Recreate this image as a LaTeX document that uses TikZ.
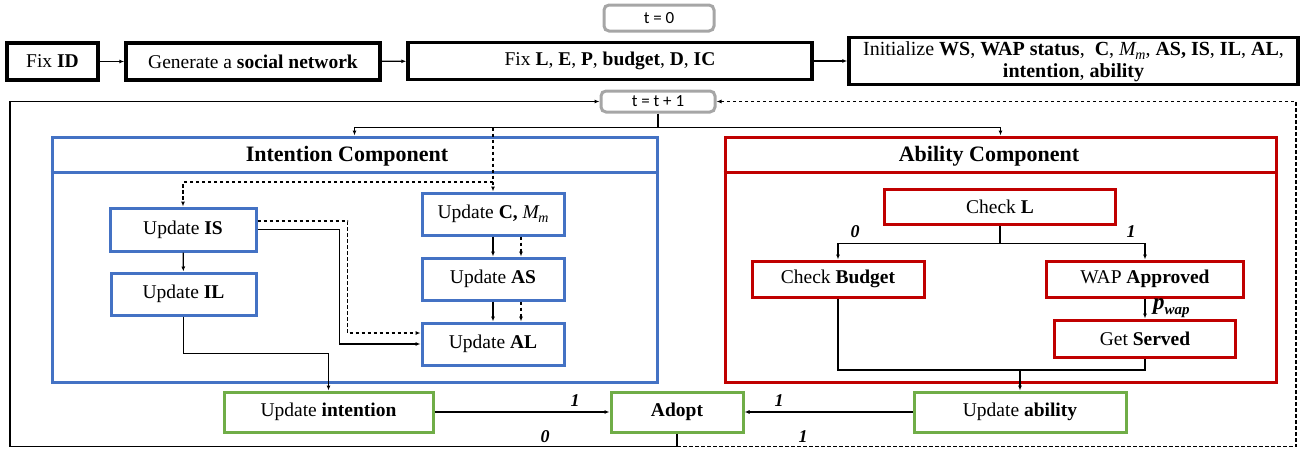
\documentclass[tikz,border=0pt]{standalone}
\usepackage{fontspec}
\setmainfont{Liberation Serif}
\newfontfamily\calibfont{Carlito}
\usetikzlibrary{arrows.meta,calc}

\definecolor{iblue}{HTML}{4472C4}
\definecolor{ared}{HTML}{C00000}
\definecolor{ogreen}{HTML}{70AD47}
\definecolor{tgray}{HTML}{A6A6A6}

% italic M with subscript m, set in the text font
\newcommand{\Mm}{\textit{M\kern-0.5pt}\raisebox{-3.5pt}{\fontsize{14}{14}\selectfont\textit{m}}}

\tikzset{
  base/.style={inner sep=0pt, align=center, font=\fontsize{19.5}{22}\selectfont},
  initbox/.style={base, draw=black, line width=3.5pt},
  intbox/.style={base, draw=iblue, line width=3pt},
  ablbox/.style={base, draw=ared, line width=3pt},
  outbox/.style={base, draw=ogreen, line width=3pt},
  timebox/.style={base, draw=tgray, line width=3pt, rounded corners=5pt, font=\calibfont\fontsize{17}{19}\selectfont},
  comp/.style={inner sep=0pt, line width=3pt},
  ttl/.style={inner sep=0pt, font=\bfseries\fontsize{22}{24}\selectfont},
  lbl/.style={inner sep=0pt, font=\bfseries\itshape\fontsize{18}{20}\selectfont},
  conn/.style={line width=1.3pt, -{Latex[length=5pt,width=4pt]}},
  link/.style={line width=1.3pt},
  dconn/.style={conn, dash pattern=on 3.5pt off 2.5pt},
  dlink/.style={link, dash pattern=on 3.5pt off 2.5pt},
}

\begin{document}
\begin{tikzpicture}[x=1pt,y=-1pt]
\useasboundingbox (0,0) rectangle (1301,448);

% ---- initialisation row ----
\node[timebox, minimum width=110, minimum height=26] (t0) at (659,18) {t = 0};
\node[initbox, minimum width=91, minimum height=37] (fixid) at (52.5,61.5) {Fix \textbf{ID}};
\node[initbox, minimum width=254, minimum height=37] (gen) at (253,61.5) {Generate a \textbf{social network}};
\node[initbox, minimum width=404, minimum height=37] (fixl) at (610,61) {Fix \textbf{L}, \textbf{E}, \textbf{P}, \textbf{budget}, \textbf{D}, \textbf{IC}};
\node[initbox, minimum width=449, minimum height=47, font=\fontsize{20}{22}\selectfont] (init) at (1073.5,61)
  {\strut Initialize \textbf{WS}, \textbf{WAP status},\ \ \textbf{C}, \Mm, \textbf{AS, IS}, \textbf{IL}, \textbf{AL},\\ \textbf{intention}, \textbf{ability}};
\draw[conn] (fixid) -- (gen);
\draw[conn] (gen) -- (fixl);
\draw[conn] (fixl) -- (init);

% ---- time step ----
\node[timebox, minimum width=114, minimum height=21] (t1) at (658,101.5) {t = t + 1};

% ---- intention component ----
\node[comp, draw=iblue, minimum width=605, minimum height=245] (intc) at (354.5,259.5) {};
\draw[iblue, line width=3pt] ($(intc.north west)+(0,37)$) -- ($(intc.north east)+(0,37)$);
\node[ttl] (intt) at (347,156) {Intention Component};

\node[intbox, minimum width=146, minimum height=43] (uis) at (183,229.5) {Update \textbf{IS}};
\node[intbox, minimum width=145, minimum height=42] (uil) at (183.5,294) {Update \textbf{IL}};
\node[intbox, minimum width=142, minimum height=42] (ucm) at (493,214) {Update \textbf{C,} \Mm};
\node[intbox, minimum width=142, minimum height=42] (uas) at (493,279) {Update \textbf{AS}};
\node[intbox, minimum width=142, minimum height=42] (ual) at (493,344) {Update \textbf{AL}};

% ---- ability component ----
\node[comp, draw=ared, minimum width=551, minimum height=245] (ablc) at (1000.5,259.5) {};
\draw[ared, line width=3pt] ($(ablc.north west)+(0,37)$) -- ($(ablc.north east)+(0,37)$);
\node[ttl] (ablt) at (989,156) {Ability Component};

\node[ablbox, minimum width=231, minimum height=35] (chkl) at (1000,206.5) {Check \textbf{L}};
\node[ablbox, minimum width=172, minimum height=36] (chkb) at (838,279) {Check \textbf{Budget}};
\node[ablbox, minimum width=197, minimum height=36] (wap) at (1145,279) {WAP \textbf{Approved}};
\node[ablbox, minimum width=181, minimum height=37] (gs) at (1145,338.5) {Get \textbf{Served}};

% ---- outcome row ----
\node[outbox, minimum width=209, minimum height=40] (uint) at (328.5,412) {Update \textbf{intention}};
\node[outbox, minimum width=132, minimum height=40, font=\bfseries\fontsize{19.5}{22}\selectfont] (adopt) at (677,412) {Adopt};
\node[outbox, minimum width=212, minimum height=40] (uabl) at (1020,412) {Update \textbf{ability}};

% ---- time step fan-out ----
\draw[link] (t1.south) -- ++(0,14) coordinate (split);
\draw[conn] (split) -| (intc.north);
\draw[conn] (split) -| (ablc.north);
\coordinate (dsplit) at (493,182);
\draw[dconn] (ucm.north |- split) -- (ucm.north);
\draw[dconn] (dsplit) -| (uis.north);

% ---- intention flows ----
\draw[conn] (uis) -- (uil);
\draw[conn] (ucm) -- (uas);
\draw[conn] (uas) -- (ual);
\draw[dconn] ([xshift=28pt]ucm.south) -- ([xshift=28pt]uas.north);
\draw[dconn] ([xshift=28pt]uas.south) -- ([xshift=28pt]ual.north);
\draw[dconn] ([yshift=8.5pt]uis.east) -- ++(90,0) |- ([yshift=11pt]ual.west);
\draw[conn] (uis.east) -- ++(82,0) |- (ual.west);
\draw[conn] (uil.south) -- ++(0,37) -| (uint.north);

% ---- ability flows ----
\draw[link] (chkl.south) -- ++(0,18) coordinate (lsplit);
\draw[conn] (lsplit) -| (chkb.north);
\draw[conn] (lsplit) -| (wap.north);
\node[lbl] (l0) at (855,232) {0};
\node[lbl] (l1) at (1131,232) {1};
\draw[conn] (wap) -- (gs);
\node[inner sep=0pt, anchor=west, font=\bfseries\itshape\fontsize{23}{24}\selectfont] (pw) at (1153,308)
  {p\raisebox{-5pt}{\fontsize{15}{16}\selectfont wap}};
\coordinate (mrg) at (1020,370);
\draw[link] (chkb.south) |- (mrg) -| (gs.south);
\draw[conn] (mrg) -- (uabl.north);

% ---- adoption ----
\draw[conn] (uint) -- (adopt);
\draw[conn] (uabl) -- (adopt);
\node[lbl] (a1) at (575,401) {1};
\node[lbl] (a2) at (779,401) {1};

% ---- loop back to the next time step ----
\coordinate (hub) at (677,446.5);
\coordinate (bl) at (10,446.5);
\coordinate (br) at (1296,446.5);
\draw[link] (adopt.south) -- (hub);
\draw[conn] (hub) -- (bl) |- (t1.west);
\draw[dconn] (hub) -- (br) |- (t1.east);
\node[lbl] (b0) at (545,437) {0};
\node[lbl] (b1) at (803,437) {1};
\end{tikzpicture}
\end{document}
